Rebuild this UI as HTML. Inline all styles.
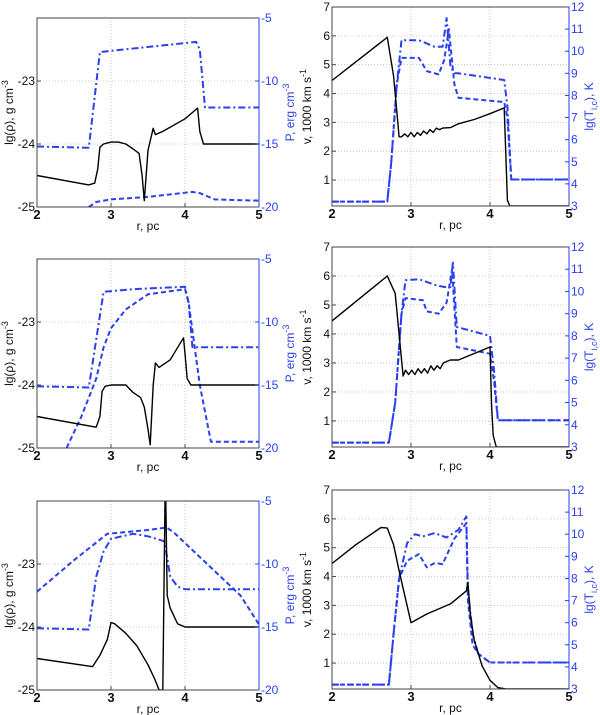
<!DOCTYPE html>
<html><head><meta charset="utf-8"><style>
html,body{margin:0;padding:0;background:#fff;}
svg{display:block;font-family:"Liberation Sans",sans-serif;}
</style></head><body>
<svg id="fig" width="600" height="715" viewBox="0 0 600 715" xmlns="http://www.w3.org/2000/svg"></svg>
<script>
// ---- Data (r in pc) ----
const p1RhoX=[2,2.7,2.78,2.82,2.85,2.9,3.0,3.1,3.2,3.3,3.38,3.42,3.45,3.5,3.57,3.6,3.7,4.0,4.17,4.2,4.25,4.3,5];
const p1RhoY=[-24.5,-24.65,-24.62,-24.4,-24.05,-24.0,-23.97,-23.97,-24.0,-24.08,-24.15,-24.5,-24.9,-24.1,-23.75,-23.85,-23.8,-23.6,-23.43,-23.8,-24.0,-24.0,-24.0];
const p1PdX=[2,2.7,2.85,4.15,4.2,4.27,5];
const p1PdY=[-15.2,-15.3,-7.7,-6.9,-7.5,-12.1,-12.1];
const p1PsX=[2.7,2.8,3.0,3.5,4.1,4.2,4.4,5];
const p1PsY=[-20,-19.6,-19.4,-19.2,-18.8,-18.9,-19.4,-19.5];
const p2VX=[2,2.7,2.78,2.85,2.88,2.92,2.96,3.0,3.04,3.08,3.12,3.16,3.2,3.24,3.28,3.32,3.36,3.4,3.5,3.6,3.8,4.0,4.18,4.22,4.25,5];
const p2VY=[4.45,5.95,4.6,2.5,2.5,2.6,2.5,2.65,2.5,2.65,2.55,2.7,2.6,2.75,2.65,2.8,2.75,2.8,2.82,2.95,3.1,3.3,3.5,0.3,0.1,0.1];
const p2TdX=[2,2.7,2.75,2.82,2.88,3.1,3.3,3.4,3.45,3.5,3.55,3.6,4.18,4.22,4.27,5];
const p2TdY=[3.2,3.2,5,8.5,10.5,10.5,10.2,10.2,11.5,9.3,9.0,9.0,8.7,7.5,4.2,4.2];
const p2TsX=[2,2.7,2.75,2.82,2.88,3.1,3.2,3.35,3.42,3.48,3.55,3.6,4.18,4.22,4.27,5];
const p2TsY=[3.2,3.2,5,8.5,9.7,9.7,9.1,8.95,9.6,11.0,8.5,7.9,7.7,7.0,4.2,4.2];
const p3RhoX=[2,2.8,2.85,2.88,2.92,3.0,3.2,3.3,3.4,3.45,3.5,3.53,3.57,3.6,3.65,3.8,3.98,4.0,4.03,4.08,5];
const p3RhoY=[-24.5,-24.67,-24.5,-24.1,-24.02,-24.0,-24.0,-24.12,-24.2,-24.35,-24.7,-24.95,-24.0,-23.65,-23.72,-23.6,-23.25,-23.5,-23.9,-24.0,-24.0];
const p3PdX=[2,2.7,2.9,3.3,4.0,4.05,4.1,5];
const p3PdY=[-15.1,-15.2,-7.6,-7.4,-7.2,-8.5,-12.0,-12.0];
const p3PsX=[2.4,2.6,2.8,2.9,3.0,3.2,3.5,4.0,4.05,4.2,4.35,5];
const p3PsY=[-20,-17.5,-14.5,-12,-10.5,-9,-7.8,-7.4,-8.5,-15,-19.5,-19.5];
const p4VX=[2,2.7,2.8,2.9,2.93,2.97,3.01,3.05,3.09,3.13,3.17,3.21,3.25,3.29,3.33,3.37,3.41,3.45,3.5,3.6,4.0,4.02,4.04,4.08,5];
const p4VY=[4.45,6.0,5.4,2.55,2.75,2.6,2.75,2.6,2.8,2.65,2.8,2.65,2.9,2.75,2.9,2.8,3.0,3.05,3.1,3.1,3.55,1.5,0.5,0.1,0.1];
const p4TdX=[2,2.72,2.8,2.88,2.93,3.1,3.3,3.42,3.5,3.53,3.58,4.0,4.05,4.1,5];
const p4TdY=[3.2,3.2,5,9,10.5,10.55,10.3,10.2,10.2,11.3,8.4,8.0,6.5,4.2,4.2];
const p4TsX=[2,2.72,2.8,2.88,2.93,3.15,3.2,3.35,3.45,3.52,3.58,4.0,4.05,4.1,5];
const p4TsY=[3.2,3.2,5,9,9.7,9.6,9.1,9.0,9.5,11.0,7.5,7.2,6.0,4.2,4.2];
const p5RhoX=[2,2.7,2.75,2.85,2.95,3.0,3.05,3.2,3.35,3.5,3.6,3.65,3.69,3.7,3.73,3.74,3.76,3.8,3.9,4.0,5];
const p5RhoY=[-24.5,-24.62,-24.63,-24.45,-24.2,-23.93,-23.95,-24.1,-24.3,-24.6,-24.85,-25.0,-25.0,-25.0,-22.0,-22.0,-23.5,-23.7,-23.95,-24.0,-24.0];
const p5PdX=[2,2.7,2.8,2.9,3.0,3.3,3.5,3.72,3.76,3.8,3.9,4.0,5];
const p5PdY=[-15.1,-15.2,-11,-9,-8,-7.6,-7.8,-8.2,-9.5,-11,-11.8,-12.0,-12.0];
const p5PsX=[2,2.5,2.95,3.5,3.75,3.85,4.3,4.75,5];
const p5PsY=[-12.2,-9.7,-7.6,-7.3,-7.1,-7.5,-10,-12.5,-14.8];
const p6VX=[2,2.3,2.62,2.7,2.78,2.85,3.0,3.2,3.5,3.7,3.72,3.75,3.8,3.9,4.0,4.1,4.2,5];
const p6VY=[4.45,5.1,5.7,5.68,5.1,4.2,2.4,2.7,3.05,3.5,3.8,2.7,1.8,0.9,0.4,0.15,0.1,0.1];
const p6TdX=[2,2.72,2.78,2.85,2.95,3.05,3.15,3.3,3.45,3.6,3.7,3.72,3.78,3.85,4.0,5];
const p6TdY=[3.2,3.2,5.5,8,9.6,10.0,9.9,10.05,9.85,10.2,10.8,7.5,5.5,4.6,4.2,4.2];
const p6TsX=[2,2.72,2.78,2.85,2.95,3.1,3.2,3.3,3.4,3.55,3.7,3.72,3.78,3.85,4.0,5];
const p6TsY=[3.2,3.2,5.5,8,8.8,9.1,8.5,8.7,8.65,9.8,10.5,7,5,4.6,4.2,4.2];

const xTicks=[2,3,4,5];
const rhoTicks=[-25,-24,-23];
const pTicks=[-20,-15,-10,-5];
const vTicks=[1,2,3,4,5,6,7];
const tTicks=[3,4,5,6,7,8,9,10,11,12];

const NS="http://www.w3.org/2000/svg";
const svg=document.getElementById('fig');
const BLUE="#2a3ff0";
function mk(tag,attrs,parent){const e=document.createElementNS(NS,tag);for(const k in attrs)e.setAttribute(k,attrs[k]);(parent||svg).appendChild(e);return e;}

function panel(cfg){
  const g=mk('g',{});
  
  
  const sx=v=>cfg.x0+(v-2)/3*(cfg.x1-cfg.x0);
  const syL=v=>cfg.y1-(v-cfg.lmin)/(cfg.lmax-cfg.lmin)*(cfg.y1-cfg.y0);
  const syR=v=>cfg.y1-(v-cfg.rmin)/(cfg.rmax-cfg.rmin)*(cfg.y1-cfg.y0);
  const cid='clip-'+cfg.name;
  const cp=mk('clipPath',{id:cid},g);mk('rect',{x:cfg.x0,y:cfg.y0,width:cfg.x1-cfg.x0,height:cfg.y1-cfg.y0},cp);
  xTicks.forEach(t=>{if(t>2&&t<5){const l=mk('line',{x1:sx(t),x2:sx(t),y1:cfg.y0,y2:cfg.y1,stroke:'#bbb','stroke-dasharray':'1,2','stroke-width':0.8},g);}});
  cfg.lticks.forEach(t=>{const y=syL(t);if(y>cfg.y0+1&&y<cfg.y1-1){const l=mk('line',{x1:cfg.x0,x2:cfg.x1,y1:y,y2:y,stroke:'#bbb','stroke-dasharray':'1,2','stroke-width':0.8},g);}});
  function line(xs,ys,sy,color,dash,w,name){
    const d=xs.map((x,i)=>(i?'L':'M')+sx(x).toFixed(1)+','+sy(ys[i]).toFixed(1)).join('');
    const p=mk('path',{d:d,fill:'none',stroke:color,'stroke-width':w,'stroke-dasharray':dash,'clip-path':'url(#'+cid+')','stroke-linejoin':'round'},g);
    
    
  }
  cfg.series.forEach(s=>line(s.x,s.y,s.axis==='L'?syL:syR,s.color,s.dash,s.w,s.name));
  const fr=mk('rect',{x:cfg.x0,y:cfg.y0,width:cfg.x1-cfg.x0,height:cfg.y1-cfg.y0,fill:'none',stroke:'#444','stroke-width':1},g);
  
  mk('line',{x1:cfg.x1,x2:cfg.x1,y1:cfg.y0,y2:cfg.y1,stroke:BLUE,'stroke-width':1},g);
  xTicks.forEach(t=>{
    mk('line',{x1:sx(t),x2:sx(t),y1:cfg.y1,y2:cfg.y1-4,stroke:'#444'},g);
    const tx=mk('text',{x:sx(t),y:cfg.y1+12,'text-anchor':'middle','font-size':13,'font-weight':'bold',fill:'#111'},g);
    tx.textContent=t;
  });
  cfg.lticks.forEach(t=>{
    const y=syL(t);
    mk('line',{x1:cfg.x0,x2:cfg.x0+4,y1:y,y2:y,stroke:'#444'},g);
    const tx=mk('text',{x:cfg.x0-2,y:y+4,'text-anchor':'end','font-size':12,fill:'#111'},g);
    tx.textContent=t;
  });
  cfg.rticks.forEach(t=>{
    const y=syR(t);
    mk('line',{x1:cfg.x1,x2:cfg.x1-4,y1:y,y2:y,stroke:BLUE},g);
    const tx=mk('text',{x:cfg.x1+2,y:y+4,'text-anchor':'start','font-size':12,fill:BLUE},g);
    tx.textContent=t;
  });
  const xl=mk('text',{x:(cfg.x0+cfg.x1)/2,y:cfg.y1+23,'text-anchor':'middle','font-size':12,fill:'#111'},g);
  xl.textContent='r, pc';
  const cy=(cfg.y0+cfg.y1)/2;
  const yl=mk('text',{x:cfg.lx,y:cy,'text-anchor':'middle','font-size':12,fill:'#111',transform:`rotate(-90 ${cfg.lx} ${cy})`},g);
  yl.innerHTML=cfg.ltitle;
  const yr=mk('text',{x:cfg.rx,y:cy,'text-anchor':'middle','font-size':12,fill:BLUE,transform:`rotate(-90 ${cfg.rx} ${cy})`},g);
  yr.innerHTML=cfg.rtitle;
}
const rhoT='lg(ρ), g cm<tspan dy="-5" font-size="9">-3</tspan>';
const pT='P, erg cm<tspan dy="-5" font-size="9">-3</tspan>';
const vT='v, 1000 km s<tspan dy="-5" font-size="9">-1</tspan>';
const tT='lg(T<tspan dy="4" font-size="9">i,c</tspan><tspan dy="-4">), K</tspan>';
const DD='7,3,2,3', DS='5,3';
function leftCfg(name,y0,y1,rho,pd,ps){return {name,x0:37,x1:259,y0,y1,lmin:-25,lmax:-22,rmin:-20,rmax:-5,lticks:rhoTicks,rticks:pTicks,lx:13,rx:294,ltitle:rhoT,rtitle:pT,
  series:[{x:pd[0],y:pd[1],axis:'R',color:BLUE,dash:DD,w:2,name:'pressure-dashdot'},{x:ps[0],y:ps[1],axis:'R',color:BLUE,dash:DS,w:2,name:'pressure-dashed'},{x:rho[0],y:rho[1],axis:'L',color:'#000',dash:'none',w:1.4,name:'density-line'}]};}
function rightCfg(name,y0,y1,v,td,ts){return {name,x0:332,x1:569,y0,y1,lmin:0.1,lmax:7,rmin:3,rmax:12,lticks:vTicks,rticks:tTicks,lx:311,rx:593,ltitle:vT,rtitle:tT,
  series:[{x:td[0],y:td[1],axis:'R',color:BLUE,dash:DD,w:2,name:'temperature-ion'},{x:ts[0],y:ts[1],axis:'R',color:BLUE,dash:DS,w:2,name:'temperature-electron'},{x:v[0],y:v[1],axis:'L',color:'#000',dash:'none',w:1.4,name:'velocity-line'}]};}
panel(leftCfg('density-pressure-panel-1',18,207,[p1RhoX,p1RhoY],[p1PdX,p1PdY],[p1PsX,p1PsY]));
panel(rightCfg('velocity-temperature-panel-1',7,206,[p2VX,p2VY],[p2TdX,p2TdY],[p2TsX,p2TsY]));
panel(leftCfg('density-pressure-panel-2',259,448,[p3RhoX,p3RhoY],[p3PdX,p3PdY],[p3PsX,p3PsY]));
panel(rightCfg('velocity-temperature-panel-2',247,447,[p4VX,p4VY],[p4TdX,p4TdY],[p4TsX,p4TsY]));
panel(leftCfg('density-pressure-panel-3',501,690,[p5RhoX,p5RhoY],[p5PdX,p5PdY],[p5PsX,p5PsY]));
panel(rightCfg('velocity-temperature-panel-3',490,689,[p6VX,p6VY],[p6TdX,p6TdY],[p6TsX,p6TsY]));
</script>
</body></html>
